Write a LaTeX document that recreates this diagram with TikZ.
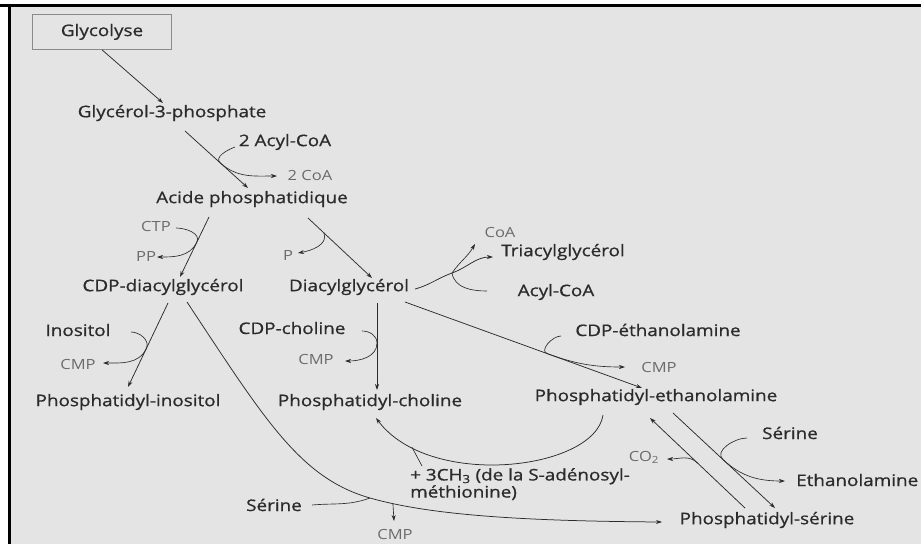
\documentclass[tikz,border=0pt]{standalone}
\usepackage{fontspec}
\setmainfont{Open Sans}[FakeStretch=1.18]
\newfontfamily\cpdfont{Open Sans}[FakeStretch=1.18, FakeBold=0.8]
\usetikzlibrary{arrows.meta}
\definecolor{ink}{HTML}{2B2B2B}
\definecolor{paper}{HTML}{E4E4E4}

\begin{document}
\begin{tikzpicture}[x=1pt, y=1pt, >={Stealth[length=6pt,width=4pt]},
  cpd/.style={inner sep=1pt, text=ink, font=\cpdfont\fontsize{16}{16}\selectfont},
  cof/.style={inner sep=1pt, text=ink!70, font=\fontsize{14}{15}\selectfont},
  rxn/.style={->, draw=ink, line width=0.75pt},
  aux/.style={draw=ink, line width=0.65pt}]

\useasboundingbox (0,0) rectangle (921,-544);

% Frame
\fill[white] (0,0) rectangle (921,-544);
\fill[paper] (8,-5) rectangle (921,-544);
\draw[line width=3pt] (0,-5.5) -- (921,-5.5);
\draw[line width=3pt] (9.5,-5.5) -- (9.5,-544);

% Starting point
\node[cpd, draw=ink!55, line width=0.6pt, minimum width=139pt, minimum height=35pt] (GLY) at (102,-32) {\raisebox{4pt}{Glycolyse}};

% Lipids
\node[cpd] (G3P) at (172,-113) {Glycérol-3-phosphate};
\node[cpd] (AP) at (252,-199) {Acide phosphatidique};
\node[cpd] (CDPDAG) at (163,-287) {CDP-diacylglycérol};
\node[cpd] (DAG) at (349,-287) {Diacylglycérol};
\node[cpd] (TAG) at (563,-252) {Triacylglycérol};
\node[cpd] (PI) at (128,-402) {Phosphatidyl-inositol};
\node[cpd] (PC) at (370,-402) {Phosphatidyl-choline};
\node[cpd] (PE) at (656,-397) {Phosphatidyl-ethanolamine};
\node[cpd] (PS) at (767,-520) {Phosphatidyl-sérine};

% Co-substrates and by-products
\node[cpd] (ACYLb) at (285,-142) {2 Acyl-CoA};
\node[cof] (COAb) at (310,-175) {2 CoA};
\node[cof] (CTP) at (156,-226) {CTP};
\node[cof] (PP) at (146,-256) {PP};
\node[cof] (P) at (288,-255) {P};
\node[cof] (COA) at (500,-232) {CoA};
\node[cpd] (ACYL) at (556,-292) {Acyl-CoA};
\node[cpd] (INO) at (78,-330) {Inositol};
\node[cof] (CMPa) at (78,-364) {CMP};
\node[cpd] (CDPC) at (292,-328) {CDP-choline};
\node[cof] (CMPb) at (316,-359) {CMP};
\node[cpd] (CDPE) at (658,-330) {CDP-éthanolamine};
\node[cof] (CMPc) at (659,-367) {CMP};
\node[cpd] (SERb) at (790,-433) {Sérine};
\node[cof] (CO2) at (644,-457) {CO\textsubscript{2}};
\node[cpd, anchor=west] (ETH) at (795,-480) {Ethanolamine};
\node[cpd, align=left, anchor=north west, inner sep=0pt] (SAM) at (410,-468) {+ 3CH\textsubscript{3} (de la S-adénosyl-\\méthionine)};
\node[cpd] (SERa) at (274,-505) {Sérine};
\node[cof] (CMPd) at (395,-534) {CMP};

% Junctions
\coordinate (jT) at (452,-273);
\coordinate (jS) at (370,-498);

% Main reactions
\draw[rxn] (GLY.south) -- ([shift={(-9,10)}]G3P.center);
\draw[rxn] ([shift={(13,-18)}]G3P.center) -- ([shift={(-4,11)}]AP.center) coordinate[pos=0.56] (jA);
\draw[rxn] ([shift={(-43,-18)}]AP.center) -- ([shift={(17,10)}]CDPDAG.center) coordinate[pos=0.42] (jB);
\draw[rxn] ([shift={(56,-19)}]AP.center) -- ([shift={(23,9)}]DAG.center) coordinate[pos=0.25] (jP);
\draw[rxn] ([shift={(5,-16)}]CDPDAG.center) -- ([shift={(0,15)}]PI.center) coordinate[pos=0.54] (jI);
\draw[rxn] ([shift={(28,-16)}]DAG.center) -- ([shift={(7,12)}]PC.center) coordinate[pos=0.46] (jC);
\draw[rxn] ([shift={(56,-15)}]DAG.center) -- ([shift={(-14,9)}]PE.center) coordinate[pos=0.6] (jE);
\draw[rxn] ([shift={(66,-2)}]DAG.center) to[out=15,in=200] (jT) to[out=20,in=180] ([shift={(-70,-5)}]TAG.center);
\draw[rxn] ([shift={(24,-15)}]CDPDAG.center) .. controls (265,-420) and (300,-478) .. (jS)
  .. controls (430,-515) and (520,-521) .. ([shift={(-105,-2)}]PS.center) coordinate[pos=0.12] (jCMP);
\draw[rxn] ([shift={(-53,-18)}]PE.center) .. controls (595,-470) and (430,-490) .. ([shift={(6,-16)}]PC.center) coordinate[pos=0.83] (jM);
\draw[rxn] ([shift={(17,-16)}]PE.center) -- ([shift={(8,12)}]PS.center) coordinate[pos=0.49] (jSE);
\draw[rxn] ([shift={(-22,12)}]PS.center) -- ([shift={(-6,-21)}]PE.center) coordinate[pos=0.5] (jCO);

% Side reactions
\draw[aux, ->] ([shift={(-50,-5)}]ACYLb.center) to[out=200,in=138] (jA) to[out=-42,in=180] ([shift={(-33,-1)}]COAb.center);
\draw[aux, ->] ([shift={(20,-2)}]CTP.center) to[out=0,in=64] (jB) to[out=-116,in=0] ([shift={(11,-1)}]PP.center);
\draw[aux, ->] (jP) to[out=-70,in=10] ([shift={(10,2)}]P.center);
\draw[aux, ->] (jT) to[out=55,in=-120] ([shift={(-25,-12)}]COA.center);
\draw[aux] ([shift={(-69,1)}]ACYL.center) to[out=180,in=-80] (jT);
\draw[aux, ->] ([shift={(53,-2)}]INO.center) to[out=0,in=65] (jI) to[out=-115,in=0] ([shift={(25,1)}]CMPa.center);
\draw[aux, ->] ([shift={(70,-3)}]CDPC.center) to[out=0,in=90] (jC) to[out=-90,in=0] ([shift={(29,-2)}]CMPb.center);
\draw[aux, ->] ([shift={(-97,-6)}]CDPE.center) to[out=180,in=160] (jE) to[out=-20,in=180] ([shift={(-34,0)}]CMPc.center);
\draw[aux] ([shift={(12,2)}]SAM.north west) -- (jM);
\draw[aux] ([shift={(38,0)}]SERa.center) to[out=5,in=200] (jS);
\draw[aux, ->] (jCMP) -- ([shift={(-1,13)}]CMPd.center);
\draw[aux, ->] ([shift={(-43,-5)}]SERb.center) to[out=180,in=137] (jSE) to[out=-43,in=180] ([shift={(-10,-1)}]ETH.west);
\draw[aux, ->] (jCO) to[out=136,in=0] ([shift={(23,-2)}]CO2.center);

\end{tikzpicture}
\end{document}
